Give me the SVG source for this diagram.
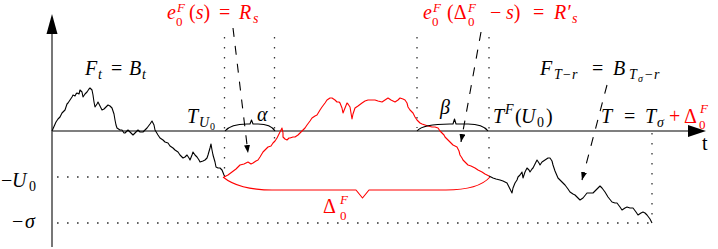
<svg xmlns="http://www.w3.org/2000/svg" width="718" height="249" viewBox="0 0 718 249">
<defs>
<style>
.axis{stroke:#555;stroke-width:1.6;fill:none}
.ahead{fill:#000}
.dot{stroke:#333;stroke-width:1.3;stroke-dasharray:1.6 8.4;fill:none}
.bm{stroke:#000;stroke-width:1.1;fill:none;stroke-linejoin:round}
.rd{stroke:#f00;stroke-width:1.1;fill:none;stroke-linejoin:round}
.dash{stroke:#000;stroke-width:1.1;stroke-dasharray:9 9;fill:none;marker-end:url(#ar)}
text{font-size:20px;font-style:italic}
.r{fill:#f00}
.k{fill:#000}
.up{font-style:normal}
.s{font-size:14px}
.st{font-size:13px}
.ss{font-size:10px}
</style>
<marker id="ar" viewBox="0 0 8 6" refX="8" refY="3" markerWidth="8" markerHeight="6" markerUnits="userSpaceOnUse" orient="auto">
<path d="M0,0 L8,3 L0,6 z" fill="#000"/>
</marker>
</defs>

<g id="axes">
<line class="axis" x1="52" y1="247" x2="52" y2="30"/>
<polygon class="ahead" points="52,14 46.5,34 57.5,34"/>
<line class="axis" x1="52" y1="131" x2="692" y2="131"/>
<polygon class="ahead" points="706,131 688,125 688,137"/>
<text class="up k" x="702" y="150" font-size="18" font-family="Liberation Serif, DejaVu Serif, serif">t</text>
</g>

<g id="guides">
<line class="dot" x1="57" y1="177" x2="222" y2="177"/>
<line class="dot" x1="57" y1="223" x2="652" y2="223"/>
<line class="dot" x1="224.5" y1="37" x2="224.5" y2="177"/>
<line class="dot" x1="274.5" y1="37" x2="274.5" y2="143"/>
<line class="dot" x1="417" y1="37" x2="417" y2="128"/>
<line class="dot" x1="489" y1="37" x2="489" y2="176"/>
<line class="dot" x1="652" y1="133" x2="652" y2="223"/>
</g>

<g id="paths">
<polyline class="bm" points="52,131 56,122 58,119 60,117 62,113 63,112 65,110 67,104 68,103 70,100 72,97 73,95 75,96 76,94 77,93 79,94 80,90 82,92 83,97 85,94 87,92 89,89 90,88 92,90 93,95 94,102 95,107 97,104 98,102 100,106 102,110 104,109 105,108 107,106 108,105 110,106 112,108 114,114 115,120 116,125 117,128 120,130 122,130 124,133 125,133 127,131 128,130 130,132 133,135 135,133 138,130 140,132 143,132 145,130 147,128 150,124 152,121 154,125 155,130 158,135 160,138 163,140 165,142 168,143 170,146 173,148 175,150 178,152 180,155 183,158 185,157 187,155 189,158 190,160 192,155 193,152 195,155 197,157 199,160 200,162 203,161 205,160 207,158 208,155 210,148 211,144 212,150 213,155 215,162 216,167 218,168 220,168 222,170 224,175 225,177"/>
<polyline class="rd" points="224,177 228,175 232,172 236,169 240,165 244,164 248,162 251,164 253,163 256,161 258,160 260,157 263,152 266,149 268,147 271,146 273,143 275,141 277,138 279,134 281,130 282,128 283,133 283,137 285,139 287,140 289,138 290,138 293,137 295,137 298,135 300,133 303,130 305,128 307,125 310,121 312,118 315,116 317,115 320,110 322,107 325,103 327,100 330,98 332,98 335,100 337,102 339,102 340,103 342,108 343,113 345,108 347,103 348,104 350,107 351,113 352,119 353,114 355,108 358,106 362,103 365,101 368,100 372,100 375,100 378,101 382,102 385,100 388,98 391,100 395,102 398,100 400,98 403,99 405,100 407,103 408,107 410,110 413,113 415,117 417,120 420,123 422,124 425,125 428,126 432,127 435,127 438,128 440,131 442,133 444,135 445,137 448,140 450,142 452,144 453,145 455,146 457,147 459,151 460,155 462,158 463,160 465,162 468,165 471,166 475,168 478,170 482,172 485,174 489,176"/>
<polyline class="bm" points="489,176 491,177 493,178 496,179 500,180 503,181 507,183 509,187 512,193 513,188 515,183 517,180 518,177 520,175 522,172 523,178 525,172 527,168 529,170 530,172 532,169 533,168 535,164 537,160 539,163 540,165 542,162 545,160 548,158 550,158 552,161 553,165 555,171 558,178 561,181 565,185 568,189 570,192 573,194 575,195 578,198 580,200 583,198 587,193 590,193 593,193 596,190 600,186 602,188 605,192 608,197 612,202 615,203 617,203 620,207 622,210 625,208 627,207 630,208 633,208 636,212 638,215 641,213 643,212 645,213 647,215 650,219 652,223"/>
</g>

<g id="braces">
<path class="bm" d="M225,131 C230,125 240,124 247,124 L250,124 L251.5,120 L253,124 L258,124 C266,124 272,126 275,131"/>
<path class="bm" d="M417,131 C422,125 438,124 450,124 L453,124 L454.5,119 L456,124 L468,124 C479,124 485,127 488,131"/>
<path class="rd" d="M223,177 C234,186 250,190 272,190 L356,190 L362.5,198 L369,190 L446,190 C468,190 482,186 490,177"/>
</g>

<g id="connectors">
<line class="dash" x1="233" y1="28" x2="248" y2="153"/>
<line class="dash" x1="481" y1="32" x2="461" y2="142"/>
<line class="dash" x1="607" y1="85" x2="582" y2="180"/>
</g>

<g id="labels" font-family="Liberation Serif, DejaVu Serif, serif">
<text class="r"><tspan x="167" y="19">e</tspan><tspan class="st" x="177" y="11.5">F</tspan><tspan class="st up" x="176" y="26">0</tspan><tspan class="up" x="189" y="19">(</tspan><tspan>s</tspan><tspan class="up">)</tspan><tspan class="up" x="219">=</tspan><tspan x="239">R</tspan><tspan class="s" x="253" y="23">s</tspan></text>

<text class="r"><tspan x="423" y="19">e</tspan><tspan class="st" x="433" y="11.5">F</tspan><tspan class="st up" x="432" y="26">0</tspan><tspan class="up" x="447" y="19">(Δ</tspan><tspan class="st" x="468" y="11.5">F</tspan><tspan class="st up" x="468" y="26">0</tspan><tspan class="up" x="490" y="19">−</tspan><tspan x="506">s</tspan><tspan class="up">)</tspan><tspan class="up" x="533">=</tspan><tspan x="554">R′</tspan><tspan class="s" x="572" y="23">s</tspan></text>

<text class="k"><tspan x="85" y="75">F</tspan><tspan class="s" x="98" y="79">t</tspan><tspan class="up" x="111" y="75">=</tspan><tspan x="129">B</tspan><tspan class="s" x="142" y="79">t</tspan></text>

<text class="k"><tspan x="187" y="123">T</tspan><tspan class="s" x="199" y="127">U</tspan><tspan class="ss up" x="210" y="130">0</tspan></text>

<text class="k" x="257" y="121">α</text>
<text class="k" x="440" y="114">β</text>

<text class="k"><tspan x="493" y="123">T</tspan><tspan class="s" x="505" y="114">F</tspan><tspan class="up" x="515" y="123">(</tspan><tspan x="521">U</tspan><tspan class="s up" x="537" y="127">0</tspan><tspan class="up" x="546" y="123">)</tspan></text>

<text><tspan class="k" x="601" y="123">T</tspan><tspan class="k up" x="624">=</tspan><tspan class="k" x="645">T</tspan><tspan class="s k" x="657" y="127">σ</tspan><tspan class="r up" x="669" y="123">+</tspan><tspan class="r up" x="684">Δ</tspan><tspan class="st r" x="700" y="113">F</tspan><tspan class="st r up" x="699" y="129">0</tspan></text>

<text class="k"><tspan x="540" y="75">F</tspan><tspan class="s" x="554" y="79">T</tspan><tspan class="s up" x="563">−</tspan><tspan class="s" x="572">r</tspan><tspan class="up" x="592" y="75">=</tspan><tspan x="613">B</tspan><tspan class="s" x="629" y="79">T</tspan><tspan class="ss" x="638" y="82">σ</tspan><tspan class="s up" x="645" y="79">−</tspan><tspan class="s" x="654">r</tspan></text>

<text class="k"><tspan class="up" x="1" y="187">−</tspan><tspan x="12">U</tspan><tspan class="s up" x="29" y="191">0</tspan></text>
<text class="k"><tspan class="up" x="12" y="228">−</tspan><tspan x="25">σ</tspan></text>

<text class="r"><tspan class="up" x="323" y="213">Δ</tspan><tspan class="st" x="340" y="203.5">F</tspan><tspan class="st up" x="340" y="220">0</tspan></text>
</g>
</svg>
